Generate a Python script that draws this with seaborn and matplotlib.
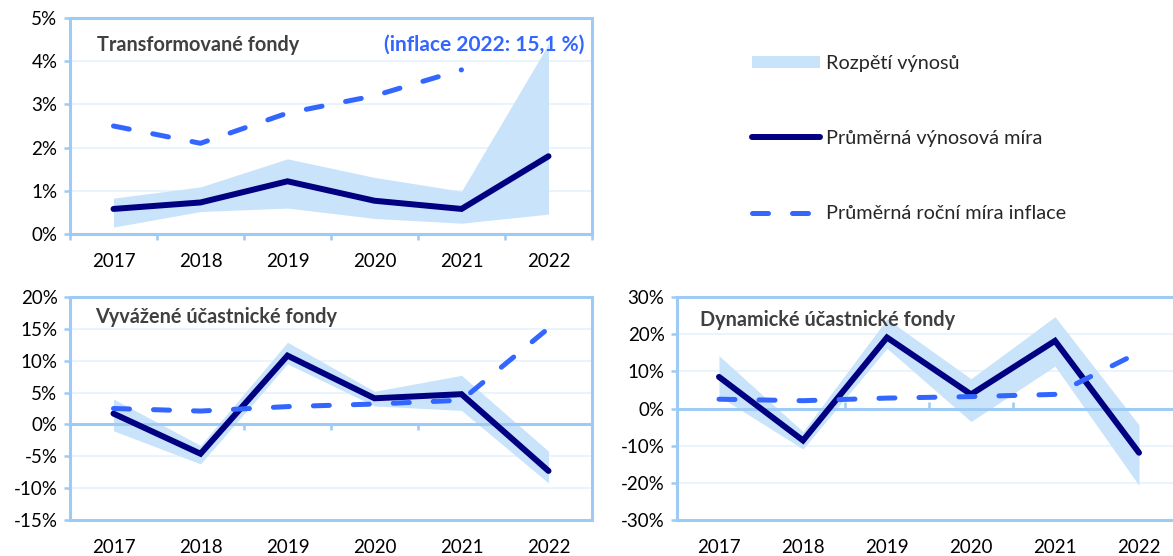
import numpy as np
import pandas as pd
import matplotlib
matplotlib.use("Agg")
import matplotlib.pyplot as plt
import matplotlib.ticker as mticker
from matplotlib.patches import Patch
from matplotlib.lines import Line2D
import seaborn as sns

# ---------------- data ----------------
years = ["2017", "2018", "2019", "2020", "2021", "2022"]
inflation = [2.5, 2.1, 2.8, 3.2, 3.8, 15.1]

tf_mean = [0.58, 0.73, 1.22, 0.77, 0.58, 1.80]
tf_low = [0.16, 0.52, 0.60, 0.36, 0.25, 0.46]
tf_high = [0.83, 1.09, 1.74, 1.31, 0.99, 4.40]

vuf_mean = [1.7, -4.6, 10.8, 4.1, 4.75, -7.3]
vuf_low = [-1.0, -6.2, 9.5, 2.9, 2.2, -9.2]
vuf_high = [4.0, -3.3, 12.9, 5.2, 7.7, -4.2]

duf_mean = [8.5, -8.6, 19.1, 3.8, 18.2, -11.9]
duf_low = [3.3, -10.9, 16.2, -3.5, 11.4, -20.7]
duf_high = [14.2, -6.2, 24.1, 8.0, 24.7, -4.4]

titles = ["Transformované fondy", "Vyvážené účastnické fondy", "Dynamické účastnické fondy"]
note_text = "(inflace 2022: 15,1 %)"
legend_labels = ["Rozpětí výnosů", "Průměrná výnosová míra", "Průměrná roční míra inflace"]

# ---------------- style ----------------
sns.set_theme(style="white")
plt.rcParams["font.family"] = ["Lato", "DejaVu Sans"]

BAND = "#c9e3fb"
MEAN = "#000080"
INFL = "#3366ff"
SPINE = "#9dcbf5"
GRID = "#e6f2fd"
TITLE_C = "#404040"

FS_TICK = 13.5
FS_TITLE = 14.3
FS_NOTE = 15
FS_LEG = 14.3

W, H = 1173, 556
fig = plt.figure(figsize=(W / 100, H / 100), dpi=100)


def px_axes(left, top, right, bottom):
    return fig.add_axes([left / W, 1 - bottom / H, (right - left) / W, (bottom - top) / H])


ax1 = px_axes(70, 18, 592, 234)
ax2 = px_axes(70, 297, 592, 520)
ax3 = px_axes(677, 297, 1181, 520)

n = len(years)
pos = np.arange(n)


def pct(v, _):
    return f"{v:.0f}%"


def draw(ax, mean, low, high, infl, ylim, step, title, title_xy, zero_frac=None):
    df = pd.DataFrame({"pos": pos[: len(mean)], "mean": mean})
    dfi = pd.DataFrame({"pos": pos[: len(infl)], "infl": infl})
    ax.fill_between(pos, low, high, color=BAND, lw=0, zorder=1)
    sns.lineplot(data=df, x="pos", y="mean", ax=ax, color=MEAN, lw=4.3,
                 solid_capstyle="round", solid_joinstyle="miter", zorder=3)
    sns.lineplot(data=dfi, x="pos", y="infl", ax=ax, color=INFL, lw=3.6,
                 dashes=False, zorder=4)
    ax.lines[-1].set_dashes((3.2, 4.8))
    ax.lines[-1].set_dash_capstyle("round")
    ax.set_xlim(-0.5, n - 0.5)
    ax.set_ylim(*ylim)
    ax.set_xlabel("")
    ax.set_ylabel("")
    ax.yaxis.set_major_locator(mticker.MultipleLocator(step))
    ax.yaxis.set_major_formatter(mticker.FuncFormatter(pct))
    ax.yaxis.grid(True, color=GRID, lw=1.2)
    ax.set_axisbelow(True)
    for s in ax.spines.values():
        s.set_color(SPINE)
        s.set_linewidth(2.2)
        s.set_visible(True)
    ax.set_xticks(np.arange(n + 1) - 0.5)
    ax.set_xticklabels([])
    ax.set_xticks(pos, minor=True)
    ax.set_xticklabels(years, minor=True)
    ax.tick_params(axis="x", which="minor", length=0, pad=14, labelsize=FS_TICK, labelcolor="black")
    ax.tick_params(axis="y", which="major", direction="out", length=4, width=1.8,
                   color=SPINE, left=True, pad=5, labelsize=FS_TICK, labelcolor="black")
    if zero_frac is None:
        ax.tick_params(axis="x", which="major", direction="out", length=4, width=1.8,
                       color=SPINE, bottom=True)
    else:
        ax.tick_params(axis="x", which="major", length=0)
        ax.axhline(0, color=SPINE, lw=2.2, zorder=2)
        sec = ax.secondary_xaxis(zero_frac)
        sec.set_xticks(np.arange(n + 1) - 0.5)
        sec.set_xticklabels([])
        sec.tick_params(axis="x", direction="out", length=4, width=1.8, color=SPINE)
        for s in sec.spines.values():
            s.set_visible(False)
    ax.text(title_xy[0], title_xy[1], title, transform=ax.transAxes, fontsize=FS_TITLE,
            fontweight="bold", color=TITLE_C, ha="left", va="center", zorder=6)


draw(ax1, tf_mean, tf_low, tf_high, inflation[:5], (0, 5), 1, titles[0], (0.052, 0.875))
ax1.text(0.985, 0.878, note_text, transform=ax1.transAxes, fontsize=FS_NOTE,
         fontweight="bold", color=INFL, ha="right", va="center", zorder=6)
draw(ax2, vuf_mean, vuf_low, vuf_high, inflation, (-15, 20), 5, titles[1], (0.048, 0.912),
     zero_frac=15 / 35)
draw(ax3, duf_mean, duf_low, duf_high, inflation, (-30, 30), 10, titles[2], (0.046, 0.895),
     zero_frac=0.5)

# ---------------- legend ----------------
handles = [
    Patch(facecolor=BAND, edgecolor="none"),
    Line2D([], [], color=MEAN, lw=4.3, solid_capstyle="round"),
    Line2D([], [], color=INFL, lw=3.6, dashes=(3.2, 4.8), dash_capstyle="round"),
]
fig.legend(handles, legend_labels, loc="upper left", bbox_to_anchor=(752 / W, 1 - 55 / H),
           frameon=False, fontsize=FS_LEG, handlelength=3.42, handleheight=0.62,
           handletextpad=0.3, labelspacing=2.93, borderaxespad=0, borderpad=0)

fig.savefig("out.png", dpi=100)
